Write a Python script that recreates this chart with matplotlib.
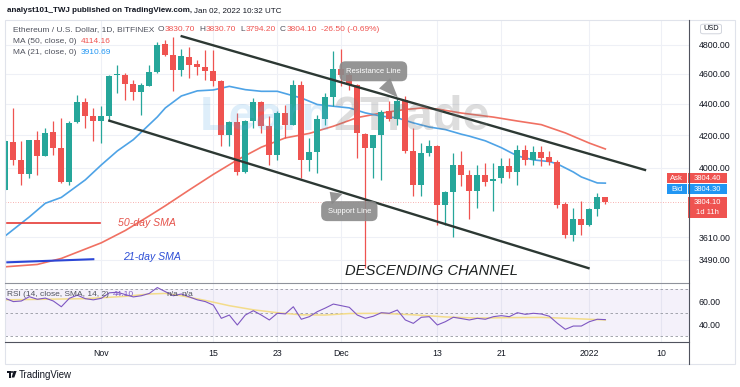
import numpy as np
import matplotlib.pyplot as plt
from matplotlib.patches import Rectangle, FancyBboxPatch, Polygon, Ellipse
from matplotlib.lines import Line2D
from matplotlib.ticker import NullLocator, NullFormatter

plt.rcParams['font.family'] = ['Liberation Sans', 'DejaVu Sans']

W, H = 740, 387

# ==> Daily candles, ETH/USD (Bitfinex)
opens = [3874, 4158, 4050, 3965, 4166, 4074, 4216, 4120, 3918, 4280,
         4411, 4319, 4287, 4319, 4588, 4593, 4530, 4477, 4515, 4611,
         4804, 4727, 4623, 4715, 4668, 4643, 4620, 4550, 4202, 4282,
         3978, 4290, 4411, 4255, 4080, 4340, 4265, 4525, 4050, 4098,
         4302, 4441, 4631, 4591, 4523, 4207, 4120, 4198, 4353, 4303,
         4426, 4104, 3899, 4090, 4131, 3785, 3860, 4020, 3957, 3868,
         3957, 3925, 3941, 4010, 3976, 4110, 4046, 4096, 4064, 4034,
         3790, 3624, 3706, 3675, 3763, 3830.7]
highs = [4170, 4372, 4162, 4172, 4222, 4245, 4287, 4308, 4287, 4459,
         4437, 4372, 4383, 4593, 4661, 4604, 4559, 4537, 4661, 4822,
         4837, 4860, 4774, 4786, 4696, 4766, 4766, 4559, 4287, 4340,
         4297, 4437, 4415, 4319, 4353, 4393, 4559, 4548, 4181, 4329,
         4470, 4755, 4774, 4604, 4530, 4215, 4202, 4361, 4415, 4437,
         4448, 4245, 4150, 4172, 4140, 3867, 4090, 4100, 3990, 4020,
         4030, 4030, 4060, 4060, 4140, 4140, 4131, 4131, 4100, 4050,
         3805, 3770, 3810, 3770, 3855, 3830.7]
lows = [3870, 4020, 3903, 3941, 3961, 4070, 4080, 3914, 3903, 4276,
        4245, 4162, 4150, 4287, 4470, 4426, 4426, 4328, 4515, 4604,
        4722, 4481, 4582, 4570, 4593, 4559, 4515, 4131, 4131, 3961,
        3970, 4245, 4212, 4020, 4050, 4181, 4265, 3941, 3979, 3970,
        4265, 4385, 4517, 4490, 4060, 3450, 3941, 3931, 4287, 4265,
        4090, 3835, 3835, 4070, 3678, 3678, 3611, 3893, 3706, 3770,
        3893, 3755, 3912, 3941, 3903, 4020, 4020, 4010, 4020, 3770,
        3604, 3588, 3624, 3671, 3725, 3794.2]
closes = [4162, 4050, 3965, 4166, 4074, 4212, 4120, 3918, 4278, 4411,
          4319, 4287, 4319, 4582, 4595, 4530, 4477, 4521, 4611, 4802,
          4727, 4623, 4722, 4661, 4643, 4620, 4550, 4202, 4282, 3978,
          4290, 4411, 4255, 4080, 4340, 4265, 4525, 4050, 4098, 4302,
          4441, 4633, 4591, 4523, 4212, 4120, 4198, 4346, 4303, 4417,
          4104, 3899, 4090, 4131, 3785, 3860, 4020, 3957, 3868, 3961,
          3918, 3937, 4010, 3976, 4110, 4046, 4096, 4060, 4034, 3788,
          3624, 3706, 3675, 3763, 3830, 3804.1]

# moving averages (candle index, price)
ma21_idx = [0, 3, 5, 7, 10, 12, 14, 16, 17, 19, 20, 22, 24, 26, 28, 30, 32, 34,
            36, 37, 39, 41, 43, 45, 47, 49, 51, 53, 55, 57, 58, 60, 62, 64, 66,
            68, 69, 71, 72, 74, 75]
ma21_val = [3617, 3720, 3796, 3829, 3930, 4018, 4102, 4171, 4218, 4314, 4372,
            4450, 4484, 4490, 4514, 4492, 4481, 4481, 4451, 4437, 4394, 4383,
            4372, 4340, 4319, 4308, 4276, 4250, 4234, 4205, 4193, 4164, 4122,
            4072, 4048, 4038, 4024, 3976, 3947, 3912, 3911]
ma50_idx = [0, 4, 7, 10, 12, 15, 18, 20, 23, 26, 29, 32, 35, 38, 41, 44, 47,
            50, 52, 54, 57, 61, 64, 67, 70, 73, 75]
ma50_val = [3455, 3467, 3498, 3547, 3580, 3646, 3726, 3782, 3872, 3962, 4048,
            4125, 4182, 4210, 4255, 4310, 4339, 4362, 4371, 4365, 4339, 4313,
            4288, 4265, 4213, 4150, 4114]

# RSI(14) per candle and its SMA
rsi_val = [62.3, 59.5, 60.0, 63.7, 61.5, 62.5, 60.0, 55.1, 62.3, 65.0,
           62.0, 61.0, 62.3, 67.0, 67.5, 65.5, 63.5, 64.5, 66.5, 71.5,
           68.0, 64.5, 66.0, 63.5, 61.0, 59.5, 56.5, 45.2, 48.0, 39.5,
           48.0, 51.7, 48.0, 43.8, 49.5, 49.0, 55.1, 44.4, 46.6, 50.9,
           54.0, 57.4, 56.0, 54.6, 48.0, 45.2, 47.0, 50.0, 49.5, 52.3,
           43.8, 40.9, 46.1, 46.6, 39.5, 42.3, 46.1, 45.0, 43.8, 45.2,
           44.4, 46.6, 47.5, 46.6, 50.0, 48.6, 49.5, 48.9, 47.0, 41.0,
           35.8, 38.6, 38.6, 42.3, 44.4, 44.1]
rsi_ma_idx = [0, 5, 10, 15, 18, 20, 22, 25, 28, 31, 34, 37, 40, 43, 47, 51,
              55, 59, 63, 67, 71, 75]
rsi_ma_val = [61.0, 61.5, 62.0, 64.0, 66.0, 66.5, 64.5, 60.5, 56.0, 52.5, 50.0,
              48.2, 48.0, 49.3, 49.5, 48.2, 46.4, 45.4, 45.8, 46.0, 45.0, 43.8]

# drawn channel (candle index, price)
resistance_x, resistance_y = [22.05, 79.96], [4862, 3988]
support_x, support_y = [13.0, 72.9], [4290, 3448]

price_ticks = [4800, 4600, 4400, 4200, 4000, 3610, 3490]
rsi_ticks = [60, 40]
time_pos = [12, 26, 34, 42, 54, 62, 73, 82]
time_labels = ['Nov', '15', '23', 'Dec', '13', '21', '2022', '10']

ask_price, bid_price = 3804.40, 3804.30
ma50_last, ma21_last, rsi_last = 4114.16, 3910.69, 44.10
change_txt = '-26.50 (-0.69%)'

GREEN, RED, BLUE = '#26a69a', '#ef5350', '#2196f3'
GRAY = '#50535e'


def fx(px):
    return px / W


def fy(py):
    return 1 - py / H


fig = plt.figure(figsize=(W / 100, H / 100), dpi=100)
renderer = fig.canvas.get_renderer()
ax = fig.add_axes([fx(5), fy(283), fx(684), (283 - 21) / H])
ax_rsi = fig.add_axes([fx(5), fy(342), fx(684), (342 - 283) / H], sharex=ax)

# ==> Main pane
x = np.arange(len(opens))
o, c = np.array(opens), np.array(closes)
col = np.where(c >= o, GREEN, RED)
ax.vlines(x, lows, highs, colors=col, lw=0.9, zorder=3)
bottom = np.minimum(o, c)
height = np.maximum(np.abs(c - o), bottom * 0.0015)
ax.bar(x, height, bottom=bottom, width=0.72, color=col, lw=0, zorder=4)

ax.plot(ma50_idx, ma50_val, color='#f07062', lw=1.2, zorder=2)
ax.plot(ma21_idx, ma21_val, color='#4ea3e6', lw=1.2, zorder=2)
ax.axhline(closes[-1], color=RED, lw=0.6, ls=(0, (1, 2)), alpha=0.6, zorder=1)

ax.plot(resistance_x, resistance_y, color='#2c3833', lw=1.7, zorder=5)
ax.plot(support_x, support_y, color='#2c3833', lw=1.7, zorder=5)

box = dict(boxstyle='round,pad=0.85,rounding_size=0.8', fc='#8a8a8a', ec='none', alpha=0.9)
wedge = dict(arrowstyle='wedge,tail_width=2.0', fc='#8a8a8a', ec='none', alpha=0.9)
ax.annotate('Resistance Line', xy=(49.3, 4427), xytext=(46.0, 4616), ha='center', va='center',
            fontsize=5.5, color='white', bbox=box, arrowprops=wedge, zorder=7)
ax.annotate('Support Line', xy=(40.3, 3872), xytext=(43.0, 3752), ha='center', va='center',
            fontsize=5.5, color='white', bbox=box, arrowprops=wedge, zorder=7)

ax.plot([0.25, 11.8], [3689, 3689], color='#e53935', lw=1.2, zorder=5)
ax.plot([0.25, 11.0], [3478, 3494], color='#2c47d6', lw=1.5, zorder=5)
ax.text(14.1, 3687, '50-day SMA', color='#e5534b', fontsize=7.6, style='italic',
        va='center', zorder=6)
ax.text(14.7, 3506, '21-day SMA', color='#2e4fd6', fontsize=7.6, style='italic',
        va='center', zorder=6)
ax.text(42.5, 3434, 'DESCENDING CHANNEL', color='#1e2222', fontsize=10.6, style='italic',
        va='center', zorder=6)

ax.set_yscale('log')
ax.set_ylim(3373, 4973)
ax.set_xlim(-0.04, 85.46)
ax.set_yticks(price_ticks)
ax.set_yticklabels([f'{p:.2f}' for p in price_ticks])
ax.yaxis.set_minor_locator(NullLocator())
ax.yaxis.set_minor_formatter(NullFormatter())
ax.yaxis.tick_right()
ax.tick_params(axis='y', length=0, pad=7, labelsize=6.3, labelcolor='#131722')
ax.set_xticks(time_pos)
ax.tick_params(axis='x', length=0, labelbottom=False)
ax.grid(True, color='#eef0f6', lw=0.8)
ax.set_axisbelow(True)
for s in ax.spines.values():
    s.set_visible(False)

# watermark
fig.text(fx(200), fy(130), 'Learn', fontsize=35, weight='bold',
         color='#5aaee6', alpha=0.2, va='baseline', zorder=8)
fig.text(fx(333), fy(130), '2Trade', fontsize=35, weight='bold',
         color='#7a7a7a', alpha=0.25, va='baseline', zorder=8)

# ==> RSI pane
ax_rsi.axhspan(30, 70, color='#7e57c2', alpha=0.08, lw=0)
for lvl in (70, 50, 30):
    ax_rsi.axhline(lvl, color='#9598a1', lw=0.6, ls=(0, (3, 3)))
ax_rsi.plot(rsi_ma_idx, rsi_ma_val, color='#f3dc8a', lw=1.1)
ax_rsi.plot(x, rsi_val, color='#7e57c2', lw=0.8)
ax_rsi.set_ylim(24.96, 75.4)
ax_rsi.set_yticks(rsi_ticks)
ax_rsi.set_yticklabels([f'{v:.2f}' for v in rsi_ticks])
ax_rsi.yaxis.tick_right()
ax_rsi.tick_params(axis='y', length=0, pad=7, labelsize=6.3, labelcolor='#131722')
ax_rsi.set_xticklabels(time_labels)
ax_rsi.tick_params(axis='x', length=0, pad=5, labelsize=6.3, labelcolor='#131722')
ax_rsi.grid(True, axis='x', color='#eef0f6', lw=0.8)
ax_rsi.set_axisbelow(True)
for s in ax_rsi.spines.values():
    s.set_visible(False)

# ==> Frame lines
fig.add_artist(Rectangle((fx(5), fy(364)), fx(730), (364 - 20) / H, transform=fig.transFigure,
                         fill=False, ec='#e0e3eb', lw=0.8))
fig.add_artist(Line2D([fx(5), fx(689)], [fy(283), fy(283)], color='#8f929b', lw=0.8))
fig.add_artist(Line2D([fx(5), fx(689)], [fy(342), fy(342)], color=GRAY, lw=0.8))
fig.add_artist(Line2D([fx(689), fx(689)], [fy(20), fy(364)], color=GRAY, lw=0.8))


# ==> Header and legends
def chain(pieces, px, py, size=6, **kw):
    # lay text pieces one after another; (text, colour, gap after in px)
    for txt, colr, gap in pieces:
        t = fig.text(fx(px), fy(py), txt, fontsize=size, color=colr, va='center', **kw)
        px = t.get_window_extent(renderer).x1 + gap


chain([('analyst101_TWJ published on TradingView.com,', '#131722', 3)], 7, 11, 5.8, weight='bold')
chain([('Jan 02, 2022 10:32 UTC', '#131722', 0)], 194, 11, 5.8)

chain([('Ethereum / U.S. Dollar, 1D, BITFINEX', GRAY, 3),
       ('O', GRAY, 0.8), (f'{opens[-1]:.2f}', RED, 4),
       ('H', GRAY, 0.8), (f'{highs[-1]:.2f}', RED, 4),
       ('L', GRAY, 0.8), (f'{lows[-1]:.2f}', RED, 4),
       ('C', GRAY, 0.8), (f'{closes[-1]:.2f}', RED, 4),
       (change_txt, RED, 0)], 13, 29.5)
chain([('MA (50, close, 0)', GRAY, 4), (f'{ma50_last:.2f}', RED, 0)], 13, 41.7)
chain([('MA (21, close, 0)', GRAY, 4), (f'{ma21_last:.2f}', BLUE, 0)], 13, 52.7)
chain([('RSI (14, close, SMA, 14, 2)', GRAY, 4), (f'{rsi_last:.2f}', '#7e57c2', 32),
       ('n/a', GRAY, 4), ('n/a', GRAY, 0)], 7, 294)

# ==> Price scale tags
fig.add_artist(FancyBboxPatch((fx(702), fy(33)), fx(18), 8 / H, transform=fig.transFigure,
                              boxstyle='round,pad=0.002,rounding_size=0.004',
                              fc='white', ec='#d1d4dc', lw=0.7))
fig.text(fx(711), fy(29), 'USD', fontsize=5.3, color='#131722', ha='center', va='center')


def tag(x0, y0, x1, y1, fc, lines):
    fig.add_artist(Rectangle((fx(x0), fy(y1)), fx(x1 - x0), (y1 - y0) / H,
                             transform=fig.transFigure, fc=fc, ec='none'))
    step = (y1 - y0) / len(lines)
    for k, s in enumerate(lines):
        fig.text(fx((x0 + x1) / 2), fy(y0 + step * (k + 0.5)), s, fontsize=5.5,
                 color='white', ha='center', va='center')


tag(666.7, 173.3, 686.7, 183.3, RED, ['Ask'])
tag(688.3, 173.3, 727.3, 183.3, RED, [f'{ask_price:.2f}'])
tag(666.7, 184.3, 686.7, 194, BLUE, ['Bid'])
tag(688.3, 184.3, 727.3, 194, BLUE, [f'{bid_price:.2f}'])
tag(688.3, 196.7, 727.3, 218.3, RED, [f'{closes[-1]:.2f}', '1d 11h'])

# ==> Footer logo
dark = '#131722'
fig.add_artist(Rectangle((fx(7), fy(373)), fx(3.6), 2 / H, transform=fig.transFigure, fc=dark, ec='none'))
fig.add_artist(Rectangle((fx(8.8), fy(377.5)), fx(1.8), 6.5 / H, transform=fig.transFigure, fc=dark, ec='none'))
fig.add_artist(Ellipse((fx(12), fy(372)), fx(2), 2 / H, transform=fig.transFigure, fc=dark, ec='none'))
fig.add_artist(Polygon([(fx(13.5), fy(371)), (fx(16.6), fy(371)), (fx(14.3), fy(377.5)), (fx(11.6), fy(377.5))],
                       transform=fig.transFigure, fc=dark, ec='none'))
fig.text(fx(19), fy(374.5), 'TradingView', fontsize=6.9, color=dark, va='center')

fig.savefig('out.png', dpi=100)
